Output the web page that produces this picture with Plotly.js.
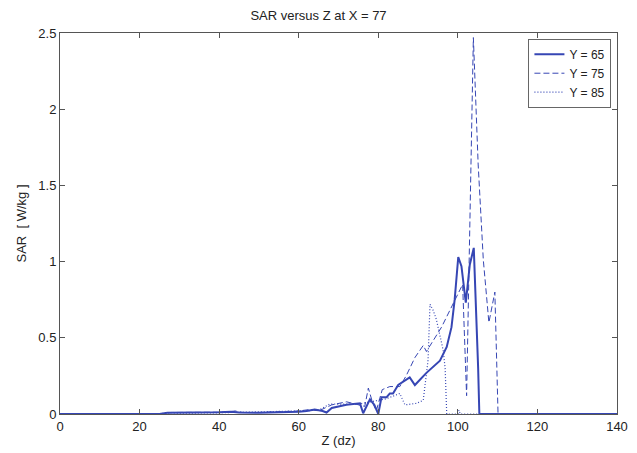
<!DOCTYPE html>
<html>
<head>
<meta charset="utf-8">
<script src="https://cdn.plot.ly/plotly-3.0.1.min.js"></script>
<style>html,body{margin:0;padding:0;background:#fff;}#chart{width:637px;height:453px;}</style>
</head>
<body>
<div id="chart"></div>
<script>
// Y = 65 (solid)
const z65 = [0, 25, 27, 30, 35, 40, 43, 45, 50, 55, 58, 60, 62, 64, 66, 67, 68.3, 70, 72, 75.4, 76.2, 77.9, 79, 80, 80.8, 82.1, 82.9, 83.7, 85, 87.9, 89.2, 92.1, 95.5, 97.2, 98.4, 99.2, 100.1, 100.9, 102, 103, 104, 105.1, 105.4, 140];
const s65 = [0, 0, 0.008, 0.008, 0.01, 0.012, 0.015, 0.01, 0.008, 0.01, 0.012, 0.015, 0.02, 0.03, 0.02, 0.01, 0.04, 0.05, 0.06, 0.07, 0.005, 0.096, 0.06, 0, 0.11, 0.11, 0.135, 0.135, 0.19, 0.24, 0.19, 0.27, 0.35, 0.44, 0.57, 0.75, 1.03, 0.97, 0.73, 0.98, 1.09, 0.3, 0, 0];
// Y = 75 (dashed)
const z75 = [0, 26, 28, 35, 42, 44, 46, 50, 55, 60, 63, 65, 68.3, 72, 76.6, 77.5, 78.5, 79.5, 81, 82.9, 84.6, 85.4, 87, 89.2, 91.3, 92.1, 95.9, 101.2, 102.2, 103.9, 105.1, 106.4, 107.8, 109.3, 110.1, 140];
const s75 = [0, 0, 0.01, 0.01, 0.012, 0.02, 0.01, 0.01, 0.015, 0.02, 0.03, 0.02, 0.06, 0.08, 0.05, 0.17, 0.08, 0.02, 0.16, 0.18, 0.18, 0.18, 0.25, 0.37, 0.45, 0.41, 0.57, 0.85, 0.12, 2.47, 1.64, 1.01, 0.6, 0.8, 0, 0];
// Y = 85 (dotted)
const z85 = [0, 25, 27, 30, 40, 45, 50, 55, 60, 65, 67.8, 70, 75, 76, 78, 80, 82, 84, 85.4, 86.7, 89.6, 91.3, 92.5, 93, 93.8, 94.6, 96.3, 96.8, 97.2, 100, 100.3, 100.6, 105, 140];
const s85 = [0, 0, 0.01, 0.005, 0.008, 0.01, 0.012, 0.015, 0.02, 0.025, 0.065, 0.065, 0.065, 0.07, 0.08, 0.09, 0.1, 0.12, 0.135, 0.06, 0.07, 0.09, 0.35, 0.72, 0.68, 0.62, 0.42, 0.3, 0, 0, 0.025, 0, 0, 0];

const names = ['Y = 65', 'Y = 75', 'Y = 85'];
const xTicks = [0, 20, 40, 60, 80, 100, 120, 140];
const yTicks = [0, 0.5, 1, 1.5, 2, 2.5];
const yTickText = ['0', '0.5', '1', '1.5', '2', '2.5'];

const blue = '#3646b4';
const traces = [
  {x: z65, y: s65, name: names[0], mode: 'lines', line: {color: blue, width: 2, dash: 'solid'}},
  {x: z75, y: s75, name: names[1], mode: 'lines', line: {color: blue, width: 1, dash: '6px,3px'}},
  {x: z85, y: s85, name: names[2], mode: 'lines', line: {color: blue, width: 1.2, dash: '1px,2px'}}
];

const axisCommon = {
  showgrid: false, zeroline: false, showline: true, mirror: 'ticks',
  linecolor: '#555', linewidth: 1, ticks: 'inside', ticklen: 5, tickcolor: '#555',
  tickfont: {size: 13, color: '#222'}
};

const layout = {
  width: 637, height: 453,
  margin: {l: 60, r: 20, t: 33, b: 39},
  paper_bgcolor: '#fff', plot_bgcolor: '#fff',
  font: {family: '"Liberation Sans", Arial, sans-serif', color: '#222', size: 13},
  title: {text: 'SAR versus Z at X = 77', font: {size: 13}, x: 0.5, xanchor: 'center', y: 0.965, yanchor: 'middle'},
  xaxis: Object.assign({}, axisCommon, {range: [0, 140], tickvals: xTicks, title: {text: 'Z (dz)', font: {size: 13}, standoff: 3}}),
  yaxis: Object.assign({}, axisCommon, {range: [0, 2.5], tickvals: yTicks, ticktext: yTickText, title: {text: 'SAR  [ W/kg ]', font: {size: 13}, standoff: 8}}),
  showlegend: true,
  legend: {x: 0.99, y: 0.985, xanchor: 'right', yanchor: 'top', bgcolor: '#fff', bordercolor: '#666', borderwidth: 1,
           font: {size: 12}, tracegroupgap: 0, itemwidth: 30}
};

Plotly.newPlot('chart', traces, layout, {displayModeBar: false, staticPlot: true});
</script>
</body>
</html>
